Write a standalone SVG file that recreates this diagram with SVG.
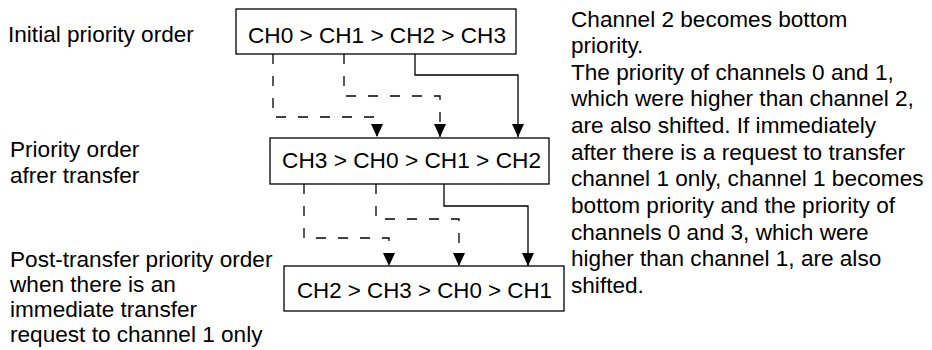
<svg xmlns="http://www.w3.org/2000/svg" width="932" height="350" viewBox="0 0 932 350">
<style>
text{font-family:"Liberation Sans",Arial,sans-serif;font-size:22.6px;fill:#000}
.box{fill:#fff;stroke:#000;stroke-width:1.3}
.solid{fill:none;stroke:#000;stroke-width:1.3}
.dash{fill:none;stroke:#000;stroke-width:1.3;stroke-dasharray:10 12}
</style>
<defs>
<marker id="ah" markerUnits="userSpaceOnUse" markerWidth="14" markerHeight="14" viewBox="0 0 14 14" refX="13" refY="6" orient="auto">
<path d="M0,0 L13,6 L0,12 Z" fill="#000" stroke="none"/>
</marker>
</defs>
<g id="label-initial"><text x="8" y="42">Initial priority order</text></g>
<g id="label-after"><text x="10" y="157">Priority order</text><text x="10" y="183">afrer transfer</text></g>
<g id="label-post"><text x="10" y="267">Post-transfer priority order</text><text x="10" y="292">when there is an</text><text x="10" y="317">immediate transfer</text><text x="10" y="342">request to channel 1 only</text></g>
<g id="box1"><rect class="box" x="236" y="9" width="280" height="45"/><text x="248" y="43" textLength="258" lengthAdjust="spacingAndGlyphs">CH0 &gt; CH1 &gt; CH2 &gt; CH3</text></g>
<g id="box2"><rect class="box" x="270" y="138" width="279" height="46"/><text x="282" y="168" textLength="259" lengthAdjust="spacingAndGlyphs">CH3 &gt; CH0 &gt; CH1 &gt; CH2</text></g>
<g id="box3"><rect class="box" x="284" y="266" width="280" height="45"/><text x="297" y="298" textLength="255" lengthAdjust="spacingAndGlyphs">CH2 &gt; CH3 &gt; CH0 &gt; CH1</text></g>
<g id="connectors">
<path class="dash" d="M273,54 V117 H377 V137" marker-end="url(#ah)"/>
<path class="dash" d="M344,54 V96 H440 V137" marker-end="url(#ah)"/>
<path class="solid" d="M415,54 V75 H518 V137" marker-end="url(#ah)"/>
<path class="dash" d="M304,184 V238 H389 V266" marker-end="url(#ah)"/>
<path class="dash" d="M376,184 V219 H459 V266" marker-end="url(#ah)"/>
<path class="solid" d="M444,184 V206 H528 V266" marker-end="url(#ah)"/>
</g>
<g id="note">
<text x="571" y="27">Channel 2 becomes bottom</text>
<text x="571" y="53">priority.</text>
<text x="571" y="80">The priority of channels 0 and 1,</text>
<text x="571" y="106">which were higher than channel 2,</text>
<text x="571" y="133">are also shifted. If immediately</text>
<text x="571" y="160">after there is a request to transfer</text>
<text x="571" y="186">channel 1 only, channel 1 becomes</text>
<text x="571" y="213">bottom priority and the priority of</text>
<text x="571" y="240">channels 0 and 3, which were</text>
<text x="571" y="266">higher than channel 1, are also</text>
<text x="571" y="293">shifted.</text>
</g>
</svg>
